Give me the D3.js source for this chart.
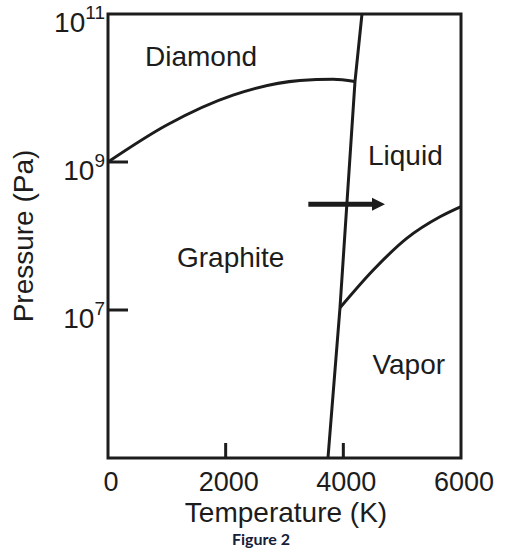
<!DOCTYPE html>
<html lang="en">
  <head>
    <meta charset="UTF-8" />
    <title>Carbon phase diagram</title>
  </head>
  <style>
    * {
      margin: 0;
      padding: 0;
    }
    body {
      background: #fff;
    }
  </style>
  <body>
    <div id="chart"></div>
  </body>
  <script src="https://d3js.org/d3.v7.min.js"></script>
  <script>
    // phase boundaries, [temperature K, pressure Pa]
    const diamondGraphite = [[0, 1e9], [1000, 3.16e9], [2125, 8.0e9], [3263, 1.26e10], [3824, 1.31e10], [4198, 1.22e10]];
    const meltingLine = [[3739, 1e5], [3943, 1.07e7], [4198, 1.22e10], [4317, 1e11]];
    const vaporLine = [[3943, 1.07e7], [4509, 3.47e7], [5077, 9.3e7], [5643, 1.82e8], [6000, 2.5e8]];
    // arrow across the melting line
    const arrowT = [3405, 4708];
    const arrowP = 2.68e8;
    // region names
    const regionNames = ["Diamond", "Graphite", "Liquid", "Vapor"];
    const regionT = [629, 1173, 4419, 4494];
    const regionP = [2e10, 3.76e7, 8.98e8, 1.37e6];
    // tick labels
    const xTicks = [0, 2000, 4000, 6000];
    const yTickExp = [11, 9, 7];

    const width = 519;
    const height = 558;
    const ink = "#1c1c1c";
    const font = "'Liberation Sans', Arial, sans-serif";

    const svg = d3
      .select("#chart")
      .append("svg")
      .attr("width", width)
      .attr("height", height);

    const x = d3.scaleLinear().domain([0, 6000]).range([108, 461]);
    const y = d3.scaleLog().domain([1e5, 1e11]).range([458, 14]);

    const line = d3.line().x((d) => x(d[0])).y((d) => y(d[1]));

    // frame
    svg
      .append("rect")
      .attr("x", x(0))
      .attr("y", y(1e11))
      .attr("width", x(6000) - x(0))
      .attr("height", y(1e5) - y(1e11))
      .attr("fill", "none")
      .attr("stroke", ink)
      .attr("stroke-width", 3);

    // inner ticks
    svg
      .selectAll(".ytick")
      .data([1e9, 1e7])
      .join("line")
      .attr("x1", x(0))
      .attr("x2", x(0) + 20)
      .attr("y1", (d) => y(d))
      .attr("y2", (d) => y(d))
      .attr("stroke", ink)
      .attr("stroke-width", 3);

    svg
      .selectAll(".xtick")
      .data([2000, 4000])
      .join("line")
      .attr("x1", (d) => x(d))
      .attr("x2", (d) => x(d))
      .attr("y1", y(1e5))
      .attr("y2", y(1e5) - 15)
      .attr("stroke", ink)
      .attr("stroke-width", 3);

    // phase boundaries
    svg
      .append("path")
      .attr("d", line.curve(d3.curveMonotoneX)(diamondGraphite))
      .attr("fill", "none")
      .attr("stroke", ink)
      .attr("stroke-width", 3);

    svg
      .append("path")
      .attr("d", line.curve(d3.curveLinear)(meltingLine))
      .attr("fill", "none")
      .attr("stroke", ink)
      .attr("stroke-width", 3);

    svg
      .append("path")
      .attr("d", line.curve(d3.curveMonotoneX)(vaporLine))
      .attr("fill", "none")
      .attr("stroke", ink)
      .attr("stroke-width", 3);

    // arrow
    const ay = y(arrowP);
    const headStart = x(arrowT[1]) - 13;
    svg
      .append("line")
      .attr("x1", x(arrowT[0]))
      .attr("x2", headStart + 1)
      .attr("y1", ay)
      .attr("y2", ay)
      .attr("stroke", ink)
      .attr("stroke-width", 5);
    svg
      .append("path")
      .attr("d", `M${headStart},${ay - 6.5}L${x(arrowT[1])},${ay}L${headStart},${ay + 6.5}Z`)
      .attr("fill", ink);

    // region labels
    svg
      .selectAll(".region")
      .data(regionNames)
      .join("text")
      .text((d) => d)
      .attr("x", (d, i) => x(regionT[i]))
      .attr("y", (d, i) => y(regionP[i]))
      .attr("font-family", font)
      .attr("font-size", "28px")
      .attr("fill", ink);

    // x tick labels
    svg
      .selectAll(".xlabel")
      .data(xTicks)
      .join("text")
      .text((d) => d)
      .attr("x", (d) => x(d) + 3)
      .attr("y", 491)
      .attr("text-anchor", "middle")
      .attr("font-family", font)
      .attr("font-size", "27px")
      .attr("fill", ink);

    // y tick labels, 10 with superscript exponent
    const ylab = svg
      .selectAll(".ylabel")
      .data(yTickExp)
      .join("text")
      .attr("x", 105)
      .attr("y", (d) => y(Math.pow(10, d)) + 18)
      .attr("text-anchor", "end")
      .attr("font-family", font)
      .attr("font-size", "28px")
      .attr("fill", ink);
    ylab.append("tspan").text("10");
    ylab
      .append("tspan")
      .text((d) => d)
      .attr("font-size", "19px")
      .attr("dy", -13);

    // axis titles
    svg
      .append("text")
      .text("Temperature (K)")
      .attr("x", 286)
      .attr("y", 522)
      .attr("text-anchor", "middle")
      .attr("font-family", font)
      .attr("font-size", "28px")
      .attr("fill", ink);

    svg
      .append("text")
      .text("Pressure (Pa)")
      .attr("transform", "translate(33,236) rotate(-90)")
      .attr("text-anchor", "middle")
      .attr("font-family", font)
      .attr("font-size", "28px")
      .attr("fill", ink);

    svg
      .append("text")
      .text("Figure 2")
      .attr("x", 261)
      .attr("y", 545)
      .attr("text-anchor", "middle")
      .attr("font-family", "Lato, 'Open Sans', sans-serif")
      .attr("font-weight", "bold")
      .attr("font-size", "16px")
      .attr("fill", "#16203a");
  </script>
</html>
